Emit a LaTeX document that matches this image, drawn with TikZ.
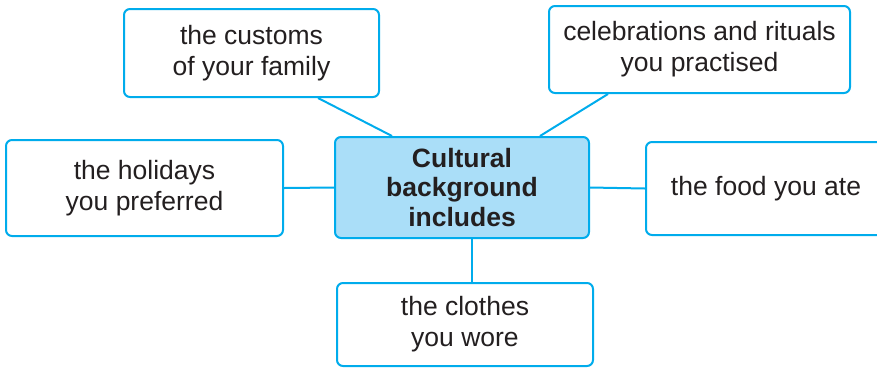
\documentclass[tikz,border=0pt]{standalone}
\usepackage{fontspec}
\setmainfont{Liberation Sans}
\usepackage{xcolor}
\definecolor{mapline}{RGB}{0,172,236}
\definecolor{mapfill}{RGB}{170,222,248}
\definecolor{maptext}{RGB}{35,31,32}
\usepackage{tikz}
\usetikzlibrary{calc}
\newcommand{\mapfont}{\fontsize{26.5}{31}\selectfont}
\newcommand{\heightbranch}{88pt}
\tikzset{
    common/.style={draw=mapline, line width=2pt, rectangle, rounded corners=6pt,
        align=center, inner sep=0pt, text=maptext, font=\mapfont},
    branch/.style={common, fill=white, minimum height=\heightbranch},
    core/.style={common, fill=mapfill, font=\mapfont\bfseries, minimum width=254pt, minimum height=101pt},
    link/.style={draw=mapline, line width=2pt}
}
\begin{document}
\begin{tikzpicture}[x=1pt, y=-1pt]
        \useasboundingbox (0,0) rectangle (877,368);
        \path
            (462,187.5) node[core, font=\fontsize{26.5}{29.5}\selectfont\bfseries] (core) {Cultural\\background\\includes}
            (251.5,53) node[branch, minimum width=255pt] (customs) {the customs\\of your family}
            (699.5,49.5) node[branch, minimum width=301pt, minimum height=87pt] (rituals) {celebrations and rituals\\you practised}
            (144.5,188) node[branch, minimum width=277pt, minimum height=96pt] (holidays) {the holidays\\you preferred}
            (766,188.5) node[branch, minimum width=240pt, minimum height=93pt] (food) {the food you ate}
            (465,324.5) node[branch, minimum width=256pt, minimum height=83pt] (clothes) {the clothes\\you wore};

        \draw[link] ([xshift=66.5pt]customs.south) -- ([xshift=-70pt]core.north);
        \draw[link] ([xshift=-91.5pt]rituals.south) -- ([xshift=78pt]core.north);
        \draw[link] (holidays.east) -- (core.west);
        \draw[link] (core.east) -- (food.west);
        \draw[link] ([xshift=10pt]core.south) -- ([xshift=7pt]clothes.north);
    \end{tikzpicture}
\end{document}
